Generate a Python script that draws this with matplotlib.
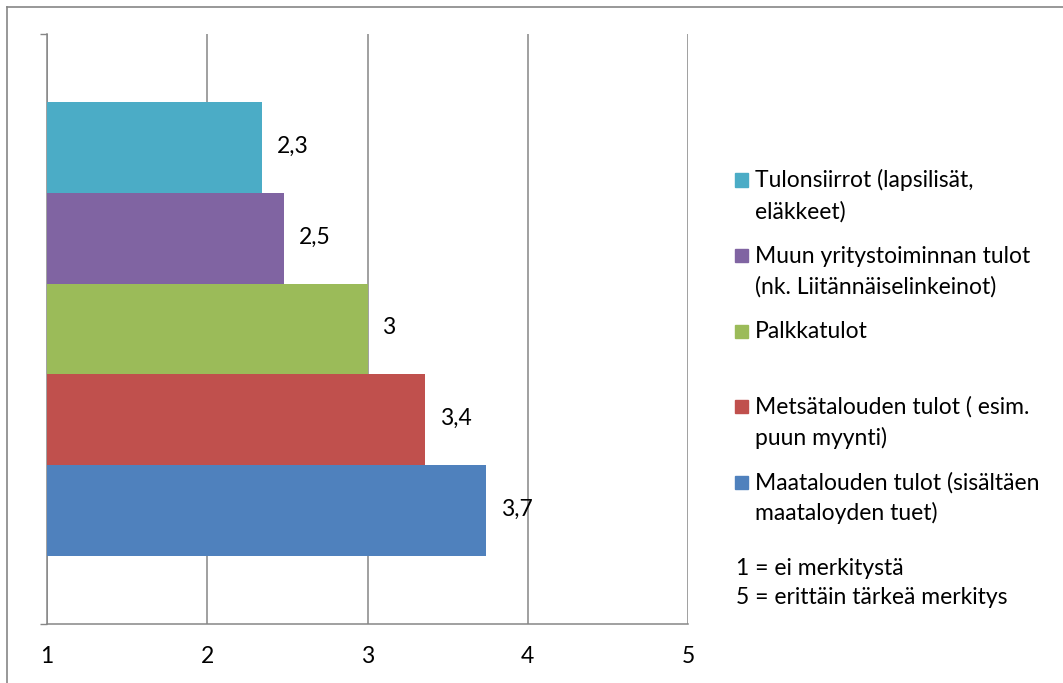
import matplotlib
matplotlib.use('Agg')
import matplotlib.pyplot as plt
from matplotlib.lines import Line2D
from matplotlib.patches import Rectangle

# series, bottom bar first
series = ['Maatalouden tulot (sisältäen\nmaataloyden tuet)',
          'Metsätalouden tulot ( esim.\npuun myynti)',
          'Palkkatulot',
          'Muun yritystoiminnan tulot\n(nk. Liitännäiselinkeinot)',
          'Tulonsiirrot (lapsilisät,\neläkkeet)']
values = [3.74, 3.36, 3.0, 2.48, 2.34]
value_labels = ['3,7', '3,4', '3', '2,5', '2,3']
colors = ['#4F81BD', '#C0504D', '#9BBB59', '#8064A2', '#4BACC6']
xticks = [1, 2, 3, 4, 5]
note = ['1 = ei merkitystä', '5 = erittäin tärkeä merkitys']

plt.rcParams['font.family'] = ['Lato', 'DejaVu Sans']
W, H = 1063, 683
grey = '#868686'
fs = 16.5

fig = plt.figure(figsize=(W / 100, H / 100), dpi=100)
ax = fig.add_axes([47 / W, (H - 624) / H, (688 - 47) / W, 590 / H])

pos = list(range(len(values)))
ax.barh(pos, [v - 1 for v in values], left=1, height=1.0, color=colors, zorder=3)
for p, v, lab in zip(pos, values, value_labels):
	ax.annotate(lab, (v, p), xytext=(15, 1), textcoords='offset pixels',
	            va='center', ha='left', fontsize=fs)

ax.set_xlim(1, 5)
ax.set_ylim(-1.25, 5.25)
ax.set_xticks(xticks)
ax.set_xticklabels([str(t) for t in xticks], fontsize=fs)
ax.tick_params(axis='x', length=0, pad=16)
ax.set_yticks([-1.25, 5.25])
ax.set_yticklabels([])
ax.tick_params(axis='y', length=5, width=1, color=grey)
ax.grid(axis='x', color=grey, linewidth=1.1, zorder=0)
for s in ['top', 'right']:
	ax.spines[s].set_visible(False)
for s in ['left', 'bottom']:
	ax.spines[s].set_color(grey)
	ax.spines[s].set_linewidth(1.1)

# outer frame (left and top edges)
fig.add_artist(Line2D([7 / W, 7 / W], [0, 1 - 7 / H], color=grey, lw=1.2))
fig.add_artist(Line2D([7 / W, 1], [1 - 7 / H, 1 - 7 / H], color=grey, lw=1.2))

# legend, top entry first
y0 = 180
step = 75.5
for i, (lab, col) in enumerate(zip(series[::-1], colors[::-1])):
	yc = y0 + i * step
	fig.add_artist(Rectangle((735 / W, 1 - (yc + 6.5) / H), 13 / W, 13 / H,
	                         color=col, transform=fig.transFigure))
	for j, line in enumerate(lab.split('\n')):
		fig.text(755 / W, 1 - (yc + 7.5 + j * 31) / H, line, fontsize=fs, va='baseline')

for j, line in enumerate(note):
	fig.text(736 / W, 1 - (575 + j * 29.5) / H, line, fontsize=fs, va='baseline')

plt.savefig('out.png', dpi=100)
plt.close()
